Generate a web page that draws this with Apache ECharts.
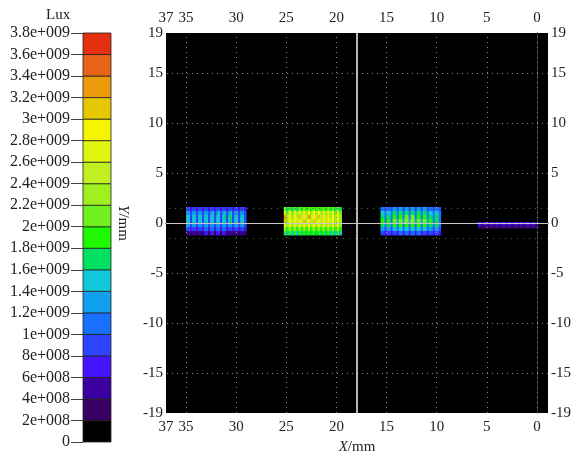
<!DOCTYPE html>
<html><head><meta charset="utf-8">
<script src="https://cdn.jsdelivr.net/npm/echarts@6/dist/echarts.min.js"></script>
<style>html,body{margin:0;padding:0;background:#fff}#c{width:571px;height:457px}</style>
</head><body><div id="c"></div>
<script>
// ---- legend (Lux) ----
const levelBounds = [0,2e8,4e8,6e8,8e8,1e9,1.2e9,1.4e9,1.6e9,1.8e9,2e9,2.2e9,2.4e9,2.6e9,2.8e9,3e9,3.2e9,3.4e9,3.6e9,3.8e9];
const levelLabels = ['0','2e+008','4e+008','6e+008','8e+008','1e+009','1.2e+009','1.4e+009','1.6e+009','1.8e+009','2e+009','2.2e+009','2.4e+009','2.6e+009','2.8e+009','3e+009','3.2e+009','3.4e+009','3.6e+009','3.8e+009'];
const levelColors = ['#000000','#380060','#3c00a0','#4414ff','#2c44ff','#1870ff','#10a0f0','#10c8d8','#00e060','#20f800','#70f020','#a0f020','#c0f020','#e0f510','#f5f500','#e5c800','#eb9a0c','#e8641a','#e53010'];
const levelChars = '0123456789abcdefghi';

// ---- axes ----
const xTickValues = [37,35,30,25,20,15,10,5,0];
const yTickValues = [19,15,10,5,0,-5,-10,-15,-19];
const xGridValues = [35,30,25,20,15,10,5,0];
const yGridValues = [15,10,5,-5,-10,-15];
const spotBandY = [1.5,-1.5];
const centerLineX = 18;
const centerLineY = 0;

// ---- illuminance blocks (levels, rows top->bottom, columns left->right) ----
const blockX0 = [35.0, 25.25, 15.6, 5.9];
const blockDX = [0.2, 0.24, 0.2, 0.3];
const blockY0 = [1.6, 1.6, 1.6, 0.1];
const blockDY = [0.4, 0.4, 0.4, 0.3];
const block1Rows = [
  '443443443443443443443443443443',
  '664664664664674674674674664664',
  '774774774774774774784784774774',
  '774774774774774774774784774774',
  '664664664664664664664664664664',
  '443443443553553553553443443443',
  '221221221331331331331221221221'
];
const block2Rows = [
  'a8a8a8a9a9a9a9a9a9a9a8a8',
  'dadadbdbebebebebdbdbdada',
  'gbebecfcecgcecfcecebebeb',
  'fbecececfcecfcecececebdb',
  'dbdbdbdbebebebdbdbdbdbdb',
  'b9b9b9b9b9b9b9b9b9b9b9b9',
  '979797989898989898979797'
];
const block3Rows = [
  '554554664664664664664664554554',
  '775775885885885885885885775775',
  '885885995995aa5aa5995995885885',
  '995995aa6aa6ba6ba6aa6aa6995885',
  '885885995995995995995995885885',
  '664664775775775775775775664664',
  '443443443553553553553443443443'
];
const block4Rows = [
  '32323232323232323232',
  '21212121212121212121'
];
const blockRows = [block1Rows, block2Rows, block3Rows, block4Rows];

const heatData = [];
blockRows.forEach((rows, b) => {
  rows.forEach((row, r) => {
    for (let c = 0; c < row.length; c++) {
      const lv = levelChars.indexOf(row[c]);
      heatData.push([
        blockX0[b] - c * blockDX[b], blockX0[b] - (c + 1) * blockDX[b],
        blockY0[b] - r * blockDY[b], blockY0[b] - (r + 1) * blockDY[b],
        (levelBounds[lv] + levelBounds[lv + 1]) / 2
      ]);
    }
  });
});
const legendData = levelColors.map((col, i) => [0, levelBounds[i], levelBounds[i + 1], i]);

const FONT = "'Liberation Serif','Times New Roman',serif";
const lab = {fontFamily: FONT, fontSize: 15, color: '#222'};
const chart = echarts.init(document.getElementById('c'), null, {renderer: 'canvas'});

const mainX = (pos) => ({
  type: 'value', gridIndex: 0, position: pos, min: -1.1, max: 37, inverse: true,
  axisLine: {show: true, lineStyle: {color: '#333'}},
  axisTick: {show: false},
  splitLine: {show: false},
  axisLabel: Object.assign({margin: 7, customValues: xTickValues}, lab)
});
const mainY = (pos) => ({
  type: 'value', gridIndex: 0, position: pos, min: -19, max: 19,
  axisLine: {show: true, lineStyle: {color: '#333'}},
  axisTick: {show: false},
  splitLine: {show: false},
  axisLabel: Object.assign({margin: 3, customValues: yTickValues}, lab)
});

const option = {
  animation: false,
  backgroundColor: '#fff',
  grid: [
    {left: 166, top: 33, width: 382, height: 380, show: true, backgroundColor: '#000', borderWidth: 0, containLabel: false, outerBoundsMode: 'none'},
    {left: 83, top: 33, width: 28, height: 409, containLabel: false, outerBoundsMode: 'none'}
  ],
  xAxis: [
    Object.assign(mainX('bottom'), {name: '{it|X}/mm', nameLocation: 'middle', nameGap: 27,
      nameTextStyle: {fontFamily: FONT, fontSize: 15, color: '#222', rich: {it: {fontFamily: FONT, fontSize: 15, fontStyle: 'italic', color: '#222'}}}}),
    mainX('top'),
    {type: 'value', gridIndex: 1, min: 0, max: 1, show: false}
  ],
  yAxis: [
    Object.assign(mainY('left'), {name: '{it|Y}/mm', nameLocation: 'middle', nameGap: 36, nameRotate: -90,
      nameTextStyle: {fontFamily: FONT, fontSize: 15, color: '#222', rich: {it: {fontFamily: FONT, fontSize: 15, fontStyle: 'italic', color: '#222'}}}}),
    mainY('right'),
    {type: 'value', gridIndex: 1, position: 'left', min: 0, max: 3.8e9, interval: 2e8,
      axisLine: {show: false},
      axisTick: {show: true, length: 12, lineStyle: {color: '#444'}},
      splitLine: {show: false},
      axisLabel: {margin: 13, fontFamily: FONT, fontSize: 16, color: '#222',
        formatter: (v) => { const i = levelBounds.findIndex(b => Math.abs(b - v) < 1); return i >= 0 ? levelLabels[i] : ''; }}}
  ],
  visualMap: {
    type: 'piecewise', show: false, dimension: 4, seriesIndex: 1,
    pieces: levelColors.map((col, i) => ({gte: levelBounds[i], lt: levelBounds[i + 1], color: col}))
  },
  graphic: [{type: 'text', left: 46, top: 8, style: {text: 'Lux', font: "15px 'Liberation Serif', serif", fill: '#222'}}],
  series: [
    {
      type: 'line', xAxisIndex: 0, yAxisIndex: 0, data: [], z: 1, silent: true,
      markLine: {
        symbol: 'none', silent: true, label: {show: false}, animation: false,
        lineStyle: {color: '#8a8a8a', type: [1, 4], width: 1},
        data: xGridValues.map(v => ({xAxis: v}))
          .concat(yGridValues.map(v => ({yAxis: v})))
          .concat(spotBandY.map(v => ({yAxis: v, lineStyle: {color: '#2f7a2f', type: [1, 5], width: 1}})))
      }
    },
    {
      type: 'custom', xAxisIndex: 0, yAxisIndex: 0, z: 3, silent: true,
      encode: {x: [0, 1], y: [2, 3]},
      data: heatData,
      renderItem: (params, api) => {
        const p1 = api.coord([api.value(0), api.value(2)]);
        const p2 = api.coord([api.value(1), api.value(3)]);
        return {type: 'rect',
          shape: {x: Math.min(p1[0], p2[0]), y: Math.min(p1[1], p2[1]), width: Math.abs(p2[0] - p1[0]) + 0.4, height: Math.abs(p2[1] - p1[1]) + 0.4},
          style: {fill: api.visual('color')}};
      }
    },
    {
      type: 'line', xAxisIndex: 0, yAxisIndex: 0, data: [], z: 5, silent: true,
      markLine: {
        symbol: 'none', silent: true, label: {show: false}, animation: false,
        data: [
          {xAxis: centerLineX, lineStyle: {color: '#f2f2f2', width: 1.5, type: 'solid'}},
          {yAxis: centerLineY, lineStyle: {color: '#c8c8c8', width: 1.2, type: 'solid'}}
        ]
      }
    },
    {
      type: 'custom', xAxisIndex: 2, yAxisIndex: 2, z: 3, silent: true,
      encode: {x: 0, y: [1, 2]},
      data: legendData,
      renderItem: (params, api) => {
        const p1 = api.coord([0, api.value(1)]);
        const p2 = api.coord([1, api.value(2)]);
        return {type: 'rect',
          shape: {x: p1[0], y: p2[1], width: p2[0] - p1[0], height: p1[1] - p2[1]},
          style: {fill: levelColors[api.value(3)], stroke: '#222', lineWidth: 0.8}};
      }
    }
  ]
};
chart.setOption(option);
</script></body></html>
